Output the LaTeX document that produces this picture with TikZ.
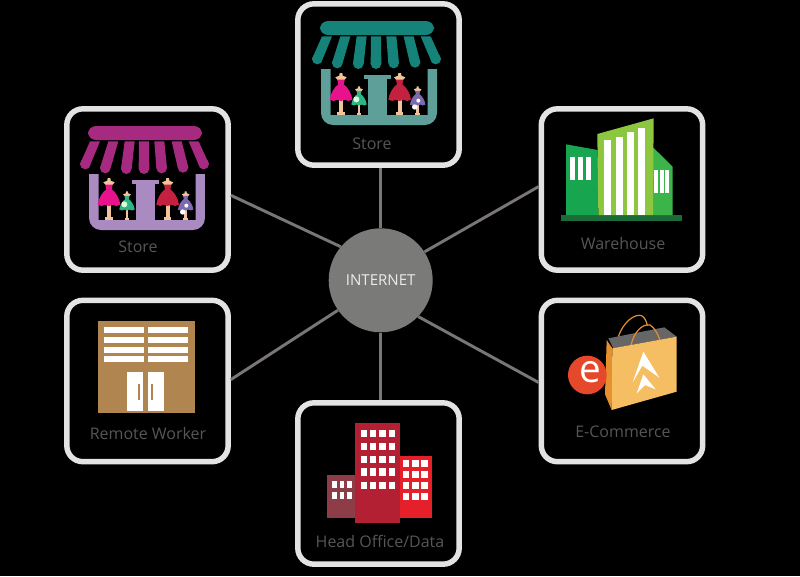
\documentclass[tikz,border=0pt]{standalone}
\usepackage{fontspec}
\setmainfont{Open Sans}
\usepackage{xcolor}

\definecolor{frameGray}{HTML}{E3E3E3}
\definecolor{linkGray}{HTML}{7A7676}
\definecolor{hubGray}{HTML}{7A7A78}
\definecolor{labelGray}{HTML}{565656}
\definecolor{skinTone}{HTML}{F2C49B}
\definecolor{tealRoof}{HTML}{16837A}
\definecolor{tealWall}{HTML}{5F9F9A}
\definecolor{plumRoof}{HTML}{A62B80}
\definecolor{plumWall}{HTML}{A98BC1}
\definecolor{dressPink}{HTML}{E8138C}
\definecolor{dressGreen}{HTML}{2DB587}
\definecolor{dressRed}{HTML}{C4203F}
\definecolor{dressPurple}{HTML}{7D69AE}
\definecolor{groundGreen}{HTML}{1B6B39}
\definecolor{blockGreen}{HTML}{17A550}
\definecolor{towerGreen}{HTML}{8DC63F}
\definecolor{wingGreen}{HTML}{3BB54A}
\definecolor{bagFront}{HTML}{F6BE62}
\definecolor{bagSide}{HTML}{E68F2E}
\definecolor{bagInside}{HTML}{666666}
\definecolor{badgeRed}{HTML}{E5482A}
\definecolor{lowBlock}{HTML}{8C3D47}
\definecolor{midBlock}{HTML}{B31F33}
\definecolor{sideBlock}{HTML}{E5202A}
\definecolor{remoteBrown}{HTML}{B0854F}

\tikzset{
  sitebox/.style={draw=frameGray, line width=4.1pt, rounded corners=12pt,
    minimum width=121pt, minimum height=121pt},
  sitelabel/.style={text=labelGray, font=\fontsize{12}{14}\selectfont},
  link/.style={draw=linkGray, line width=2.2pt}
}

% one dress on a stand, foot at (0,0)
\newcommand{\dressicon}[4]{
  \begin{scope}[shift={(#1,#2)},scale=#3]
    \fill[skinTone] (-11,-8) rectangle (11,0);
    \fill[skinTone] (-6,-48) rectangle (6,-8);
    \fill[skinTone] (-4,-126) -- (4,-126) -- (5,-118) -- (17,-113) -- (9,-104)
      -- (-9,-104) -- (-17,-113) -- (-5,-118) -- cycle;
    \fill[#4] (-11,-106) -- (11,-106) -- (8,-92) .. controls (20,-84) and (32,-64) .. (34,-46)
      -- (22,-42) -- (12,-46) -- (0,-42) -- (-12,-46) -- (-22,-42) -- (-34,-46)
      .. controls (-32,-64) and (-20,-84) .. (-8,-92) -- cycle;
  \end{scope}
}

% shop front, in thirds of a pixel
\newcommand{\storeicon}[4]{
  \begin{scope}[shift={(#1,#2)},scale=1/3]
    \fill[#3, rounded corners=6pt] (75,63) rectangle (417,105);
    \foreach \tx/\bx/\by in {96/67/177,151/127/189,200/190/191,243/243/191,289/296/189,341/360/187,392/422/177} {
      \fill[#3] (\tx-15,109) -- (\tx+15,109) -- (\bx+16,\by) -- (\bx-16,\by) -- cycle;
      \fill[#3] (\bx,\by) circle (16);
    }
    \fill[#4] (78,207) -- (107,207) -- (107,345) -- (398,345) -- (398,207) -- (426,207)
      [rounded corners=9pt] -- (426,375) -- (78,375) [sharp corners] -- cycle;
    \fill[#4] (219,237) rectangle (276,345);
    \fill[#4] (207,225) rectangle (288,237);
    \dressicon{138}{345}{1}{dressPink}
    \dressicon{192}{345}{0.68}{dressGreen}
    \dressicon{314}{345}{1}{dressRed}
    \dressicon{368}{345}{0.68}{dressPurple}
    \fill[white!85!green] (184,298) circle (9);
    \fill[white] (370,302) circle (6);
    \fill[white] (359,321) circle (8);
  \end{scope}
}

\begin{document}
\begin{tikzpicture}[x=0.75pt,y=-0.75pt]
  \fill[black] (0,0) rectangle (800,576);
  \useasboundingbox (0,0) rectangle (800,576);

  % the six sites and the hub
  \node[sitebox] (storetop) at (378.5,84.5) {};
  \node[sitebox] (storeleft) at (147.5,189.5) {};
  \node[sitebox] (warehouse) at (622,189.5) {};
  \node[sitebox] (remote) at (147.5,381) {};
  \node[sitebox] (ecommerce) at (622,381) {};
  \node[sitebox] (headoffice) at (378.5,483.5) {};
  \node[circle, fill=hubGray, minimum size=78pt, inner sep=0pt, text=white!92!black,
    font=\fontsize{11.3}{13}\selectfont] (internet) at (380.7,280.3) {INTERNET};

  \draw[link] (internet.90) -- (internet.90 |- storetop.south);
  \draw[link] (internet.270) -- (internet.270 |- headoffice.north);
  \draw[link] (internet.140) -- (storeleft.-4);
  \draw[link] (internet.33) -- (warehouse.178);
  \draw[link] (internet.215) -- (remote.1);
  \draw[link] (internet.-44) -- (ecommerce.181);

  % shops
  \storeicon{295}{0}{tealRoof}{tealWall}
  \storeicon{63}{105}{plumRoof}{plumWall}

  % warehouse
  \begin{scope}[shift={(535,105)},scale=1/3]
    \fill[groundGreen] (78,330) rectangle (440,348);
    \fill[blockGreen] (93,118) -- (188,135) -- (190,330) -- (93,330) -- cycle;
    \fill[wingGreen] (354,127) -- (413,185) -- (413,330) -- (354,330) -- cycle;
    \fill[towerGreen] (187,87) -- (356,40) -- (354,330) -- (190,330) -- cycle;
    \foreach \wx in {104,130,153} \fill[white] (\wx,156) rectangle (\wx+15,225);
    \foreach \wx in {358,375,391} \fill[white] (\wx,195) rectangle (\wx+11,265);
    \foreach \wx/\wy in {207/104,242/95,276/82,310/68} \fill[white] (\wx,\wy) rectangle (\wx+21,330);
  \end{scope}

  % shopping bag
  \begin{scope}[shift={(535,295)},scale=1/3]
    \draw[bagSide, line width=0.9pt] (250,125) .. controls (265,80) and (300,55) .. (320,62)
      .. controls (330,68) and (335,80) .. (337,92);
    \fill[bagInside] (220,130) -- (388,97) -- (425,125) -- (235,160) -- cycle;
    \draw[bagSide, line width=0.9pt] (288,152) .. controls (295,115) and (320,85) .. (345,90)
      .. controls (358,98) and (368,115) .. (375,135);
    \fill[bagSide] (215,135) -- (232,160) -- (230,345) -- (210,298) -- cycle;
    \fill[bagFront] (232,160) -- (425,125) -- (425,290) -- (230,345) -- cycle;
    \fill[white] (325,170) -- (373,248) -- (322,212) -- (293,262) -- cycle;
    \fill[white] (325,238) -- (362,283) -- (330,270) -- (305,295) -- cycle;
    \fill[badgeRed] (157,240) circle (58);
    \node[text=white, font=\fontsize{29}{29}\selectfont, inner sep=0pt] (eletter) at (165,232) {e};
  \end{scope}

  % head office
  \begin{scope}[shift={(295,398)},scale=1/3]
    \fill[lowBlock] (97,232) rectangle (180,360);
    \fill[midBlock] (180,75) rectangle (315,375);
    \fill[sideBlock] (315,175) rectangle (411,360);
    \foreach \wx in {112,134,157} \foreach \wy in {248,282}
      \fill[white] (\wx,\wy) rectangle (\wx+14,\wy+21);
    \foreach \wx in {197,225,253,281} \foreach \wy in {95,134,173,211,251}
      \fill[white] (\wx,\wy) rectangle (\wx+19,\wy+22);
    \foreach \wx in {323,351,379} \foreach \wy in {186,219,252,285}
      \fill[white] (\wx,\wy) rectangle (\wx+20,\wy+22);
  \end{scope}

  % remote worker
  \begin{scope}[shift={(60,295)},scale=1/3]
    \fill[remoteBrown] (114,78) rectangle (405,354);
    \foreach \wx in {133,263} \foreach \wy in {95,125,155,183}
      \fill[white] (\wx,\wy) rectangle (\wx+120,\wy+18);
    \foreach \wx in {202,264} \fill[white] (\wx,232) rectangle (\wx+47,347);
    \foreach \wx in {233,274} \fill[remoteBrown] (\wx,268) rectangle (\wx+6,316);
  \end{scope}

  % labels
  \node[sitelabel] (labelstoretop) at (372,144) {Store};
  \node[sitelabel] (labelstoreleft) at (138,247) {Store};
  \node[sitelabel] (labelwarehouse) at (623,243) {Warehouse};
  \node[sitelabel] (labelremote) at (148,433) {Remote Worker};
  \node[sitelabel] (labelecommerce) at (623,432) {E-Commerce};
  \node[sitelabel] (labelheadoffice) at (380,541) {Head Office/Data};
\end{tikzpicture}
\end{document}
